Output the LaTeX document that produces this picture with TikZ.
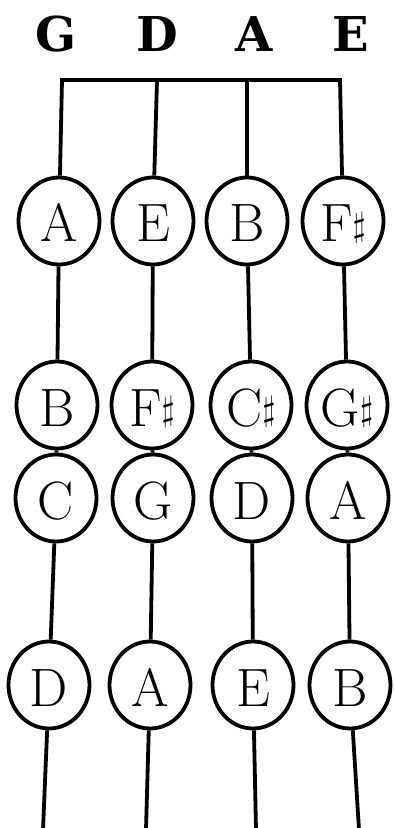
\documentclass[tikz,border=0pt]{standalone}
\usepackage{fontspec}
\usetikzlibrary{shapes.geometric}
\newfontfamily\titlefont{DejaVu Serif Bold}
\tikzset{
  note/.style={ellipse, draw, line width=1.9pt, inner sep=0pt,
    minimum width=40.5pt, minimum height=43.5pt,
    font=\fontsize{27}{27}\selectfont, text height=21pt, text depth=0pt},
  title/.style={anchor=base, font=\titlefont\fontsize{24}{24}\selectfont},
  string/.style={line width=1.9pt}
}
\newcommand{\sh}{{\fontsize{16}{16}\selectfont\raisebox{2.8pt}{$\sharp$}}}
\begin{document}
\begin{tikzpicture}[x=0.5pt,y=-0.5pt]
\useasboundingbox (0,0) rectangle (393,828);
% titles
\node[title] (tG) at (56,52) {G};
\node[title] (tD) at (157,52) {D};
\node[title] (tA) at (254,52) {A};
\node[title] (tE) at (351,52) {E};
% bar coordinates
\coordinate (b1) at (62,80);
\coordinate (b2) at (157,80);
\coordinate (b3) at (247,80);
\coordinate (b4) at (340,80);
% bottom coordinates
\coordinate (e1) at (43,830);
\coordinate (e2) at (146,830);
\coordinate (e3) at (256,830);
\coordinate (e4) at (359,830);
% row 1
\node[note] (r11) at (59,221) {A};
\node[note] (r12) at (153,221) {E};
\node[note] (r13) at (247,221) {B};
\node[note] (r14) at (343,221) {F\sh};
% row 2
\node[note] (r21) at (57,405) {B};
\node[note] (r22) at (152,405) {F\sh};
\node[note] (r23) at (251,405) {C\sh};
\node[note] (r24) at (347,405) {G\sh};
% row 3
\node[note] (r31) at (56,498) {C};
\node[note] (r32) at (153,498) {G};
\node[note] (r33) at (252,498) {D};
\node[note] (r34) at (348,498) {A};
% row 4
\node[note] (r41) at (49,685) {D};
\node[note] (r42) at (150,685) {A};
\node[note] (r43) at (253,685) {E};
\node[note] (r44) at (350,685) {B};
% strings
\draw[string, line join=miter] (r11) -- (b1) -- (b4) -- (r14);
\draw[string] (b2) -- (r12);
\draw[string] (b3) -- (r13);
\foreach \i in {1,2,3,4}{
  \draw[string] (r1\i) -- (r2\i);
  \draw[string] (r2\i) -- (r3\i);
  \draw[string] (r3\i) -- (r4\i);
  \draw[string] (r4\i) -- (e\i);
}
\end{tikzpicture}
\end{document}
